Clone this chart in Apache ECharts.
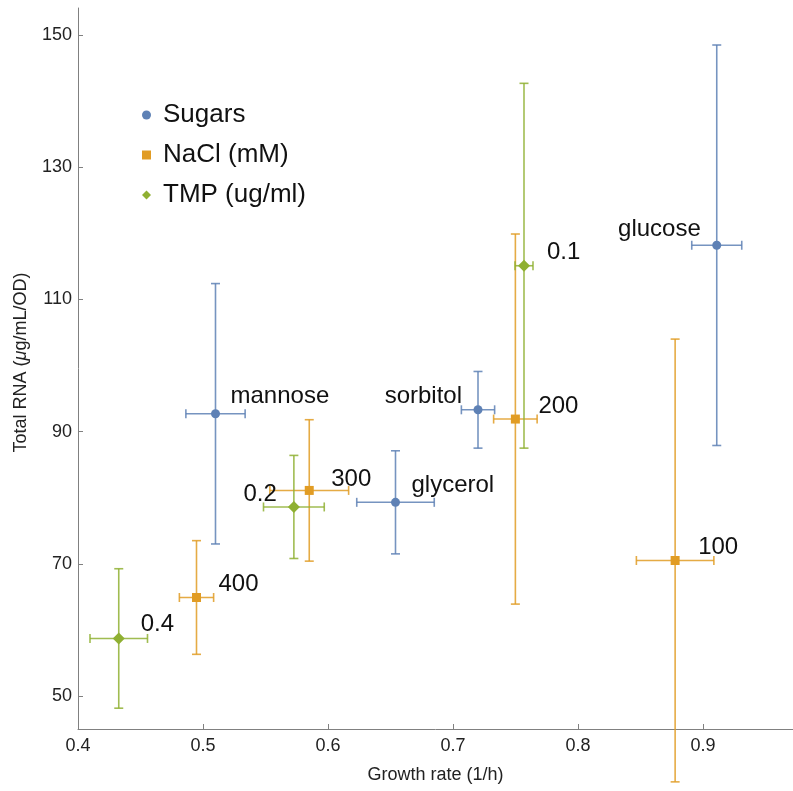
<!DOCTYPE html>
<html>
<head>
<meta charset="utf-8">
<script src="https://cdn.jsdelivr.net/npm/echarts@6/dist/echarts.min.js"></script>
<style>
html,body{margin:0;padding:0;background:#fff;}
#chart{width:793px;height:791px;}
</style>
</head>
<body>
<div id="chart"></div>
<script>
// ---- data ----
const sugarNames = ['mannose', 'sorbitol', 'glycerol', 'glucose'];
const sugarX     = [0.510, 0.720, 0.654, 0.911];
const sugarXErr  = [0.0237, 0.0133, 0.031, 0.020];
const sugarY     = [92.7, 93.3, 79.3, 118.2];
const sugarYErr  = [19.7, 5.8, 7.8, 30.3];

const naclNames = ['100', '200', '300', '400'];
const naclX     = [0.8777, 0.7499, 0.585, 0.4948];
const naclXErr  = [0.031, 0.0174, 0.0315, 0.0137];
const naclY     = [70.5, 91.9, 81.1, 64.9];
const naclYErr  = [33.5, 28.0, 10.7, 8.6];

const tmpNames = ['0.1', '0.2', '0.4'];
const tmpX     = [0.7568, 0.5727, 0.4326];
const tmpXErr  = [0.0072, 0.0243, 0.023];
const tmpY     = [115.1, 78.6, 58.7];
const tmpYErr  = [27.6, 7.8, 10.55];

const xTicks = [0.4, 0.5, 0.6, 0.7, 0.8, 0.9];
const yTicks = [50, 70, 90, 110, 130, 150];

const seriesNames = ['Sugars', 'NaCl (mM)', 'TMP (ug/ml)'];

// ---- styles (label placement per point, in px) ----
const sugarLabelPos = [['left', 15, -17], ['right', -16, -13], ['left', 16, -17], ['right', -16, -16]];
const naclLabelPos  = [['left', 23, -13], ['left', 23, -13], ['left', 22, -11], ['left', 22, -13]];
const tmpLabelPos   = [['left', 23, -13], ['right', -17, -13], ['left', 22, -14]];

const colors = ['#5E81B5', '#E19C24', '#8FB032'];
const FONT = '"Liberation Sans", Arial, sans-serif';

function pointData(xs, ys, names, pos) {
  return xs.map((x, i) => ({
    value: [x, ys[i]],
    name: names[i],
    label: {
      show: true,
      formatter: names[i],
      position: 'inside',
      align: pos[i][0],
      verticalAlign: 'middle',
      offset: [pos[i][1], pos[i][2]],
      fontSize: 24,
      color: '#111',
      fontFamily: FONT
    }
  }));
}
function errData(xs, xe, ys, ye) {
  return xs.map((x, i) => [x, ys[i], xe[i], ye[i]]);
}

function errRender(color) {
  return function (params, api) {
    const x = api.value(0), y = api.value(1), xe = api.value(2), ye = api.value(3);
    const top = api.coord([x, y + ye]);
    const bot = api.coord([x, y - ye]);
    const lft = api.coord([x - xe, y]);
    const rgt = api.coord([x + xe, y]);
    const c = 4.5;
    const style = { stroke: color, lineWidth: 1.6, opacity: 0.85 };
    const line = (x1, y1, x2, y2) => ({ type: 'line', shape: { x1, y1, x2, y2 }, style });
    return {
      type: 'group',
      children: [
        line(top[0], top[1], bot[0], bot[1]),
        line(top[0] - c, top[1], top[0] + c, top[1]),
        line(bot[0] - c, bot[1], bot[0] + c, bot[1]),
        line(lft[0], lft[1], rgt[0], rgt[1]),
        line(lft[0], lft[1] - c, lft[0], lft[1] + c),
        line(rgt[0], rgt[1] - c, rgt[0], rgt[1] + c)
      ]
    };
  };
}

const chart = echarts.init(document.getElementById('chart'), null, { renderer: 'canvas' });

const axisColor = '#808080';
const option = {
  animation: false,
  backgroundColor: '#fff',
  textStyle: { fontFamily: FONT },
  grid: { left: 78, right: 0, top: 8, bottom: 62, containLabel: false },
  legend: {
    orient: 'vertical',
    left: 137,
    top: 97,
    itemWidth: 9,
    itemHeight: 9,
    itemGap: 14,
    selectedMode: false,
    textStyle: { fontSize: 26, color: '#111', fontFamily: FONT, padding: [0, 0, 0, 7] },
    data: [
      { name: seriesNames[0], icon: 'circle' },
      { name: seriesNames[1], icon: 'rect' },
      { name: seriesNames[2], icon: 'diamond' }
    ]
  },
  xAxis: {
    type: 'value',
    min: 0.4,
    max: 0.972,
    name: 'Growth rate (1/h)',
    nameLocation: 'middle',
    nameGap: 37,
    nameTextStyle: { fontSize: 18, color: '#222', fontFamily: FONT },
    axisLine: { show: true, lineStyle: { color: axisColor, width: 1 } },
    axisTick: { show: true, inside: true, length: 5, lineStyle: { color: axisColor }, customValues: xTicks },
    axisLabel: { fontSize: 18, color: '#222', margin: 8, fontFamily: FONT, customValues: xTicks,
                 formatter: v => v.toFixed(1) },
    splitLine: { show: false }
  },
  yAxis: {
    type: 'value',
    min: 45,
    max: 154.1,
    name: '{a|Total RNA (}{i|μ}{a|g/mL/OD)}',
    nameLocation: 'middle',
    nameRotate: 90,
    nameGap: 48,
    nameTextStyle: {
      padding: [0, 0, 0, 12],
      rich: {
        a: { fontSize: 18, color: '#222', fontFamily: FONT },
        i: { fontSize: 18, color: '#222', fontFamily: FONT, fontStyle: 'italic' }
      }
    },
    axisLine: { show: true, lineStyle: { color: axisColor, width: 1 } },
    axisTick: { show: true, inside: true, length: 5, lineStyle: { color: axisColor }, customValues: yTicks },
    axisLabel: { fontSize: 18, color: '#222', margin: 6, fontFamily: FONT, customValues: yTicks },
    splitLine: { show: false }
  },
  series: [
    { type: 'custom', name: 'sugars-err', renderItem: errRender(colors[0]), data: errData(sugarX, sugarXErr, sugarY, sugarYErr), clip: false, z: 2 },
    { type: 'custom', name: 'nacl-err', renderItem: errRender(colors[1]), data: errData(naclX, naclXErr, naclY, naclYErr), clip: false, z: 2 },
    { type: 'custom', name: 'tmp-err', renderItem: errRender(colors[2]), data: errData(tmpX, tmpXErr, tmpY, tmpYErr), clip: false, z: 2 },
    { type: 'scatter', name: seriesNames[0], symbol: 'circle', symbolSize: 9, itemStyle: { color: colors[0], opacity: 1 },
      data: pointData(sugarX, sugarY, sugarNames, sugarLabelPos), z: 3 },
    { type: 'scatter', name: seriesNames[1], symbol: 'rect', symbolSize: 9, itemStyle: { color: colors[1], opacity: 1 },
      data: pointData(naclX, naclY, naclNames, naclLabelPos), z: 3 },
    { type: 'scatter', name: seriesNames[2], symbol: 'diamond', symbolSize: 12, itemStyle: { color: colors[2], opacity: 1 },
      data: pointData(tmpX, tmpY, tmpNames, tmpLabelPos), z: 3 }
  ]
};
chart.setOption(option);
</script>
</body>
</html>
